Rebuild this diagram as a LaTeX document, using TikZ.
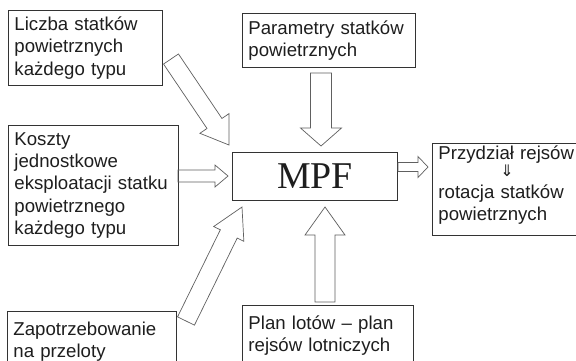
\documentclass[tikz,border=0pt]{standalone}
\usepackage{fontspec}
\setmainfont{Liberation Sans}
\newfontfamily\mpffont{Liberation Serif}
\newfontfamily\arrowfont{DejaVu Sans}
\usetikzlibrary{calc}
\definecolor{boxline}{HTML}{333333}
\definecolor{arrowline}{HTML}{606060}
\definecolor{ink}{HTML}{1E1E1E}

\begin{document}
\begin{tikzpicture}[x=1bp,y=-1bp,
    box/.style={draw=boxline,line width=0.9bp,anchor=north west,align=left,inner xsep=6bp,inner ysep=2bp,text=ink,font=\fontsize{18.7}{22.5}\selectfont},
    blockarrow/.style n args={3}{draw=arrowline,line width=0.7bp,line join=miter,
      to path={let \p1=(\tikztostart), \p2=(\tikztotarget), \p3=($(\p2)!#3!(\p1)$) in
        ($(\p1)!#1!90:(\p2)$) -- ($(\p3)!#1!90:(\p2)$) -- ($(\p3)!#2!90:(\p2)$) -- (\p2)
        -- ($(\p3)!#2!-90:(\p2)$) -- ($(\p3)!#1!-90:(\p2)$) -- ($(\p1)!#1!-90:(\p2)$) -- cycle}}]
      \useasboundingbox[fill=white] (0,0) rectangle (576,360);
      \node[box,text width=142bp,minimum height=75bp] (liczba) at (8,10) {Liczba statków\\powietrznych\\każdego typu};
      \node[box,text width=158bp,minimum height=120bp] (koszty) at (8,125) {Koszty\\jednostkowe\\eksploatacji statku\\powietrznego\\każdego typu};
      \node[box,text width=157bp,minimum height=60bp] (zapotrz) at (7,311) {Zapotrzebowanie\\na przeloty};
      \node[box,text width=161bp,minimum height=54bp] (param) at (242,13) {Parametry statków\\powietrznych};
      \node[box,minimum width=165bp,minimum height=48bp,align=center,font=\mpffont\fontsize{38}{40}\selectfont] (mpf) at (232,152) {MPF};
      \node[box,text width=148bp,minimum height=87bp] (przydzial) at (432,143) {Przydział rejsów\\[-5bp]\hspace*{62bp}{\arrowfont\fontsize{16}{16}\selectfont ⇓}\\[-1bp]rotacja statków\\powietrznych\rule[-13bp]{0pt}{0pt}};
      \node[box,text width=159bp,minimum height=60bp] (plan) at (242,305) {Plan lotów – plan\\rejsów lotniczych};
      \coordinate (liczbaOut) at (171,59);
      \coordinate (liczbaIn) at (229,145);
      \coordinate (kosztyOut) at (178,176);
      \coordinate (kosztyIn) at (228,176);
      \coordinate (zapotrzOut) at (186,321);
      \coordinate (zapotrzIn) at (242,207);
      \coordinate (paramOut) at (321,73);
      \coordinate (paramIn) at (321,146);
      \coordinate (planOut) at (325,302);
      \coordinate (planIn) at (325,207);
      \coordinate (mpfOut) at (398,167);
      \coordinate (mpfIn) at (428,167);
      \draw[blockarrow={9bp}{17.6bp}{26bp}] (liczbaOut) to (liczbaIn);
      \draw[blockarrow={6bp}{11bp}{13bp}] (kosztyOut) to (kosztyIn);
      \draw[blockarrow={9.4bp}{16.8bp}{30bp}] (zapotrzOut) to (zapotrzIn);
      \draw[blockarrow={10.5bp}{20.5bp}{18bp}] (paramOut) to (paramIn);
      \draw[blockarrow={10bp}{20bp}{28bp}] (planOut) to (planIn);
      \draw[blockarrow={4.5bp}{10.5bp}{10bp}] (mpfOut) to (mpfIn);
    \end{tikzpicture}
\end{document}
